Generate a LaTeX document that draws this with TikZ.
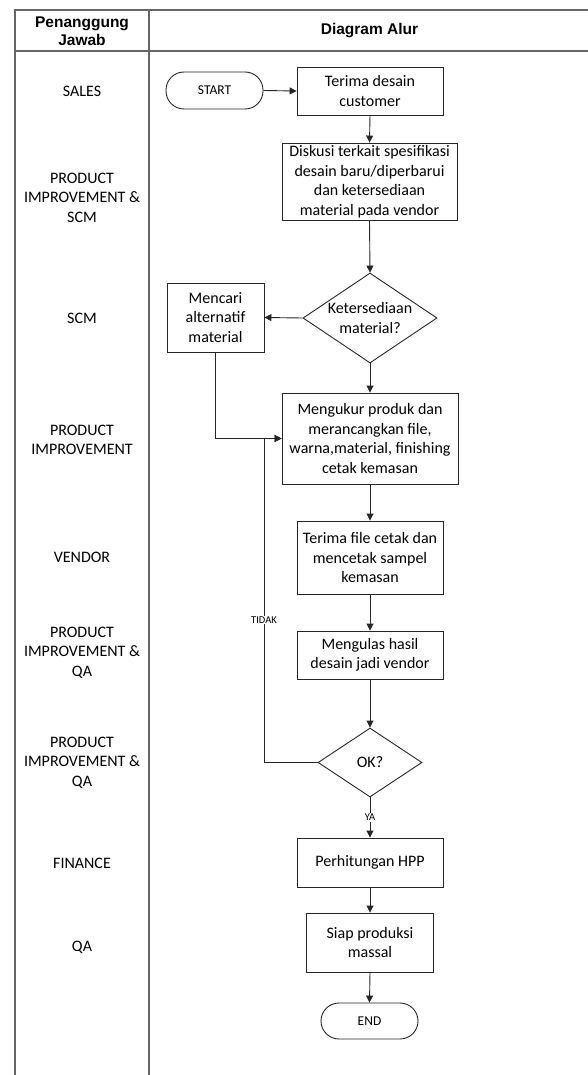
\documentclass[tikz,border=0pt]{standalone}
\usepackage{fontspec}
\setmainfont{Carlito}
\newfontfamily\hdrfont{Liberation Sans}
\usetikzlibrary{shapes.geometric,arrows.meta}

\tikzset{
  grid line/.style={draw=black!60, line width=1.6pt},
  procbox/.style={draw=black!85, line width=0.9pt, fill=white, align=center,
    inner sep=0pt, font=\fontsize{16}{19.5}\selectfont},
  termbox/.style={procbox, rounded corners=18pt, font=\fontsize{13.5}{15}\selectfont},
  decbox/.style={draw=black!85, line width=0.9pt, diamond, inner sep=0pt},
  declabel/.style={align=center, font=\fontsize{16}{19.5}\selectfont},
  role/.style={align=center, font=\fontsize{16}{19.5}\selectfont},
  headtext/.style={align=center, font=\hdrfont\bfseries\fontsize{15.5}{17.5}\selectfont},
  flow/.style={draw=black!85, line width=0.9pt, -{Triangle[length=7pt,width=7pt]}},
  link/.style={draw=black!85, line width=0.9pt},
  tag/.style={fill=white, inner sep=1pt, font=\fontsize{10.5}{11}\selectfont}
}

\begin{document}
\begin{tikzpicture}[x=1pt,y=-1pt]
  \useasboundingbox (0,0) rectangle (588,1075);

  % table frame
  \draw[grid line] (588,10) -- (15,10) -- (15,1075);
  \draw[grid line] (15,51) -- (588,51);
  \draw[grid line] (149,10) -- (149,1075);

  % header
  \node[headtext] (hA) at (82,31) {Penanggung\\Jawab};
  \node[headtext] (hB) at (369.5,30.5) {Diagram Alur};

  % responsible units
  \node[role] (r1) at (82,91) {SALES};
  \node[role] (r2) at (82,197.5) {PRODUCT\\IMPROVEMENT \&\\SCM};
  \node[role] (r3) at (82,318) {SCM};
  \node[role] (r4) at (82,440) {PRODUCT\\IMPROVEMENT};
  \node[role] (r5) at (82,557) {VENDOR};
  \node[role] (r6) at (82,652.5) {PRODUCT\\IMPROVEMENT \&\\QA};
  \node[role] (r7) at (82,762.5) {PRODUCT\\IMPROVEMENT \&\\QA};
  \node[role] (r8) at (82,863) {FINANCE};
  \node[role] (r9) at (82,947) {QA};

  % flow steps
  \node[termbox, minimum width=97pt, minimum height=37pt] (start) at (214.5,90.5) {START};
  \node[procbox, minimum width=146pt, minimum height=48pt] (terima) at (370,91) {Terima desain\\customer};
  \node[procbox, minimum width=175pt, minimum height=77pt] (diskusi) at (369.5,181.5)
    {Diskusi terkait spesifikasi\\desain baru/diperbarui\\dan ketersediaan\\material pada vendor};
  \node[decbox, minimum width=134pt, minimum height=90pt,
        label={[declabel]center:Ketersediaan\\material?}] (cek) at (370,318) {};
  \node[procbox, minimum width=97pt, minimum height=69pt] (mencari) at (215.5,317.5)
    {Mencari\\alternatif\\material};
  \node[procbox, minimum width=176pt, minimum height=91pt] (ukur) at (370,438.5)
    {Mengukur produk dan\\merancangkan file,\\warna,material, finishing\\cetak kemasan};
  \node[procbox, minimum width=146pt, minimum height=73pt] (cetak) at (370,557.5)
    {Terima file cetak dan\\mencetak sampel\\kemasan};
  \node[procbox, minimum width=146pt, minimum height=48pt] (ulas) at (370,655)
    {Mengulas hasil\\desain jadi vendor};
  \node[decbox, minimum width=104pt, minimum height=69pt,
        label={[declabel]center:OK?}] (ok) at (370,762.5) {};
  \node[procbox, minimum width=146pt, minimum height=49pt] (hpp) at (370,862.5)
    {Perhitungan HPP};
  \node[procbox, minimum width=127pt, minimum height=59pt] (siap) at (370,942.5)
    {Siap produksi\\massal};
  \node[termbox, minimum width=97pt, minimum height=36pt] (end) at (369.5,1021) {END};

  % connectors
  \draw[flow] (start.east) -- (terima.west);
  \draw[flow] (terima.south) -- (diskusi.north);
  \draw[flow] (diskusi.south) -- (cek.north);
  \draw[flow] (cek.west) -- (mencari.east);
  \draw[flow] (cek.south) -- (ukur.north);
  \draw[flow] (mencari.south) |- (ukur.west);
  \draw[flow] (ukur.south) -- (cetak.north);
  \draw[flow] (cetak.south) -- (ulas.north);
  \draw[flow] (ulas.south) -- (ok.north);
  \coordinate (back) at (264,762.5);
  \draw[link] (ok.west) -- (back) -- (back |- ukur.west)
    node[tag, pos=0.44] {TIDAK};
  \draw[flow] (back |- ukur.west) -- (ukur.west);
  \draw[flow] (ok.south) -- node[tag] {YA} (hpp.north);
  \draw[flow] (hpp.south) -- (siap.north);
  \draw[flow] (siap.south) -- (end.north);
\end{tikzpicture}
\end{document}
